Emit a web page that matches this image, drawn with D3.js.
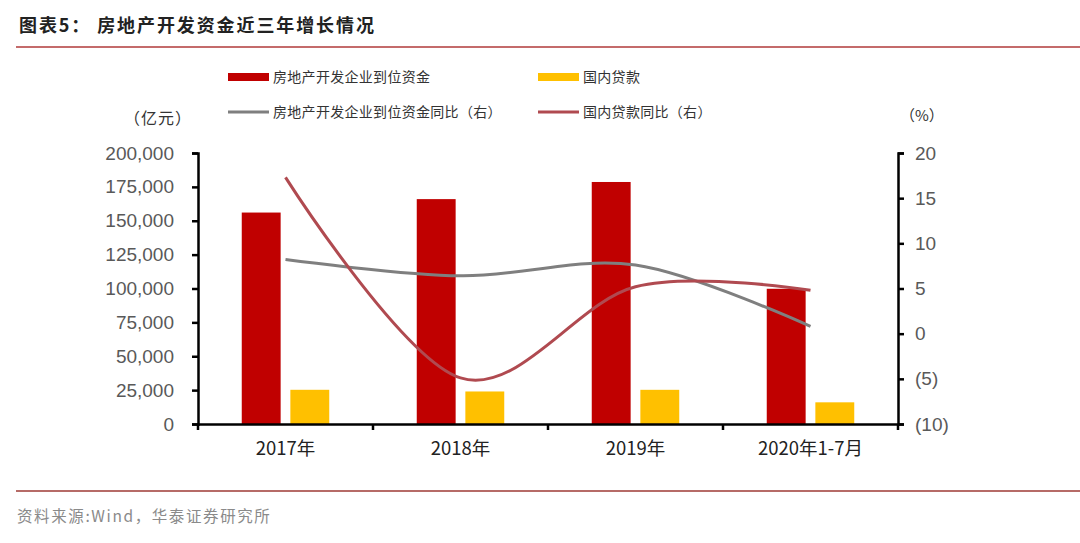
<!DOCTYPE html>
<html><head><meta charset="utf-8">
<script src="https://cdn.jsdelivr.net/npm/d3@7/dist/d3.min.js"></script>
<style>
body{margin:0;background:#fff;}
svg text{font-family:"Noto Sans CJK SC","Noto Sans",sans-serif;}
.num{font-family:"Liberation Sans",Arial,sans-serif !important;}
</style></head>
<body><svg id="c" width="1080" height="543"></svg>
<script>
const categories = ["2017年","2018年","2019年","2020年1-7月"];
const fundsArrived = [156053, 165963, 178609, 99800];      // 房地产开发企业到位资金 (亿元)
const domesticLoans = [25242, 24005, 25229, 16000];         // 国内贷款 (亿元)
const fundsYoY = [8.2, 6.4, 7.6, 0.8];                      // 到位资金同比 (%)
const loansYoY = [17.3, -4.9, 5.2, 4.8];                    // 国内贷款同比 (%)
const leftTicks = [0,25000,50000,75000,100000,125000,150000,175000,200000];
const rightTicks = [-10,-5,0,5,10,15,20];

const svg = d3.select("#c");
const L = 198, R = 898, T = 153, B = 424;

// Title
svg.append("text").attr("x",19).attr("y",32).attr("font-size",18).attr("font-weight","bold")
  .attr("fill","#222").attr("letter-spacing","1.9px").text("图表5： 房地产开发资金近三年增长情况");
svg.append("line").attr("x1",16).attr("x2",1080).attr("y1",47).attr("y2",47)
  .attr("stroke","#B03A3A").attr("stroke-width",1.5);
svg.append("line").attr("x1",16).attr("x2",1080).attr("y1",491).attr("y2",491)
  .attr("stroke","#9E3A35").attr("stroke-width",1.5);
svg.append("text").attr("x",17).attr("y",522).attr("font-size",15.5).attr("fill","#8a8a8a")
  .attr("letter-spacing","1.6px").text("资料来源:Wind，华泰证券研究所");

const x0 = d3.scaleBand().domain(categories).range([L,R]).padding(0);
const series = ["funds","loans"];
const x1 = d3.scaleBand().domain(series).range([0,x0.bandwidth()]).paddingInner(0.2).paddingOuter(0.9);
const yL = d3.scaleLinear().domain([0,200000]).range([B,T]);
const yR = d3.scaleLinear().domain([-10,20]).range([B,T]);

const colors = {funds:"#C00000", loans:"#FFC000", fy:"#7F7F7F", ly:"#B04A50"};

// Bars
const data = categories.map((c,i)=>({c, funds:fundsArrived[i], loans:domesticLoans[i]}));
series.forEach(s=>{
  svg.append("g").selectAll("rect").data(data).join("rect")
    .attr("x",d=>x0(d.c)+x1(s)).attr("width",x1.bandwidth())
    .attr("y",d=>yL(d[s])).attr("height",d=>B-yL(d[s]))
    .attr("fill",colors[s]);
});

// Lines
const cx = c => x0(c)+x0.bandwidth()/2;
const line = d3.line().curve(d3.curveCatmullRom.alpha(0)).x(d=>cx(d.c)).y(d=>yR(d.v));
svg.append("path").datum(categories.map((c,i)=>({c,v:fundsYoY[i]})))
  .attr("d",line).attr("fill","none").attr("stroke",colors.fy).attr("stroke-width",3);
svg.append("path").datum(categories.map((c,i)=>({c,v:loansYoY[i]})))
  .attr("d",line).attr("fill","none").attr("stroke",colors.ly).attr("stroke-width",3);

// Axes
const fmt = d3.format(",");
const gl = svg.append("g").attr("transform",`translate(${L},0)`)
  .call(d3.axisLeft(yL).tickValues(leftTicks).tickFormat(fmt).tickSize(6).tickPadding(18));
const gr = svg.append("g").attr("transform",`translate(${R},0)`)
  .call(d3.axisRight(yR).tickValues(rightTicks).tickFormat(d=>d<0?`(${-d})`:d).tickSize(6).tickPadding(11));
const gx = svg.append("g").attr("transform",`translate(0,${B})`)
  .call(d3.axisBottom(x0).tickSize(0).tickPadding(18));
[gl,gr].forEach(g=>{
  g.select(".domain").attr("stroke","#000").attr("stroke-width",2.5);
  g.selectAll(".tick line").attr("stroke","#000").attr("stroke-width",2.5);
  g.selectAll(".tick text").attr("font-size",19).attr("fill","#595959").attr("class","num");
});
gx.select(".domain").attr("stroke","#000").attr("stroke-width",2.5);
gx.selectAll(".tick text").attr("font-size",18.5).attr("fill","#222");
// category boundary ticks
const bounds = categories.map(c=>x0(c)).concat([R]);
svg.append("g").selectAll("line").data(bounds.slice(1)).join("line")
  .attr("x1",d=>d).attr("x2",d=>d).attr("y1",B).attr("y2",B+6)
  .attr("stroke","#000").attr("stroke-width",2.5);
svg.append("line").attr("x1",L).attr("x2",L).attr("y1",B).attr("y2",B+6).attr("stroke","#000").attr("stroke-width",2.5);

// unit labels
svg.append("text").attr("x",124).attr("y",124).attr("font-size",16).attr("letter-spacing","1px").attr("fill","#333").text("（亿元）");
svg.append("text").attr("x",900).attr("y",121).attr("font-size",15).attr("fill","#333").text("（%）");

// Legend
const leg = [
  {t:"房地产开发企业到位资金", k:"funds", type:"rect", x:228, y:77},
  {t:"国内贷款", k:"loans", type:"rect", x:538, y:77},
  {t:"房地产开发企业到位资金同比（右）", k:"fy", type:"line", x:228, y:112},
  {t:"国内贷款同比（右）", k:"ly", type:"line", x:538, y:112}
];
leg.forEach(l=>{
  if(l.type==="rect"){
    svg.append("rect").attr("x",l.x).attr("y",l.y-4).attr("width",41).attr("height",8).attr("fill",colors[l.k]);
  } else {
    svg.append("line").attr("x1",l.x).attr("x2",l.x+41).attr("y1",l.y).attr("y2",l.y)
      .attr("stroke",colors[l.k]).attr("stroke-width",3);
  }
  svg.append("text").attr("x",l.x+45).attr("y",l.y+5).attr("font-size",14).attr("letter-spacing","0.3px")
    .attr("fill","#333").text(l.t);
});
</script></body></html>
